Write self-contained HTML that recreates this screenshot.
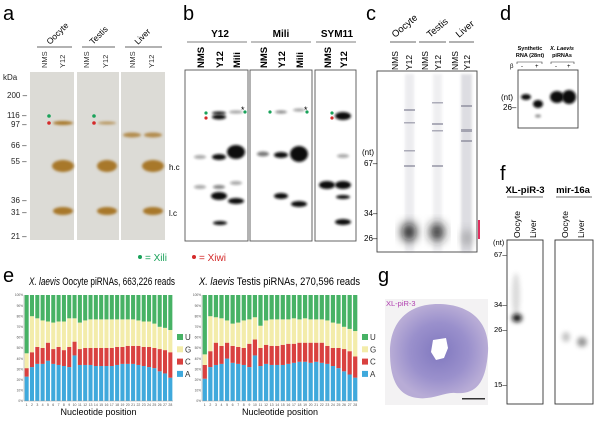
<!DOCTYPE html>
<html><head><meta charset="utf-8"><style>
html,body{margin:0;padding:0;background:#fff;}
svg{display:block;font-family:"Liberation Sans",sans-serif;}
</style></head><body>
<svg id="fig" width="600" height="422" viewBox="0 0 600 422">
<defs>
<filter id="b1" x="-50%" y="-200%" width="200%" height="500%"><feGaussianBlur stdDeviation="1.2"/></filter>
<filter id="b2" x="-50%" y="-200%" width="200%" height="500%"><feGaussianBlur stdDeviation="2.5"/></filter>
<filter id="b3" x="-50%" y="-50%" width="200%" height="200%"><feGaussianBlur stdDeviation="5"/></filter>
<radialGradient id="disc" cx="50%" cy="50%" r="50%"><stop offset="0" stop-color="#8078bf"/><stop offset="0.6" stop-color="#9a90cc"/><stop offset="1" stop-color="#b8acd6"/></radialGradient>
</defs>

<!-- Panel a -->
<g>
<text x="3" y="20" font-size="20">a</text>
<g font-size="8" fill="#222">
<text x="3" y="80">kDa</text>
<text x="7" y="98">200 –</text><text x="7" y="118">116 –</text><text x="11" y="127">97 –</text>
<text x="11" y="148">66 –</text><text x="11" y="164">55 –</text><text x="11" y="203">36 –</text>
<text x="11" y="215">31 –</text><text x="11" y="239">21 –</text>
</g>
<rect x="30" y="72" width="44" height="168" fill="#dcdbd6"/>
<rect x="77" y="72" width="42" height="168" fill="#dcdbd6"/>
<rect x="121" y="72" width="44" height="168" fill="#dcdbd6"/>
<g fill="#a8782c">
<ellipse cx="63" cy="123" rx="10" ry="2" filter="url(#b1)"/>
<ellipse cx="107" cy="123" rx="9" ry="1.5" opacity="0.7" filter="url(#b1)"/>
<ellipse cx="132" cy="135" rx="9" ry="2.5" opacity="0.8" filter="url(#b1)"/>
<ellipse cx="153" cy="135" rx="9" ry="2.5" opacity="0.8" filter="url(#b1)"/>
<ellipse cx="63" cy="166" rx="11" ry="6" filter="url(#b1)"/>
<ellipse cx="107" cy="166" rx="10" ry="6" filter="url(#b1)"/>
<ellipse cx="153" cy="166" rx="11" ry="6" filter="url(#b1)"/>
<ellipse cx="63" cy="211" rx="10" ry="4" filter="url(#b1)"/>
<ellipse cx="107" cy="211" rx="10" ry="4" filter="url(#b1)"/>
<ellipse cx="153" cy="211" rx="10" ry="4" filter="url(#b1)"/>
</g>
<circle cx="49" cy="116" r="1.8" fill="#1aa25a"/><circle cx="49" cy="123" r="1.8" fill="#d42a2a"/>
<circle cx="94" cy="116" r="1.8" fill="#1aa25a"/><circle cx="94" cy="123" r="1.8" fill="#d42a2a"/>
<text x="169" y="170" font-size="8">h.c</text><text x="169" y="216" font-size="8">l.c</text>
<g font-size="8.5"><text transform="translate(50,45) rotate(-45)">Oocyte</text>
<text transform="translate(93,45) rotate(-45)">Testis</text>
<text transform="translate(138,45) rotate(-45)">Liver</text></g>
<g stroke="#333" stroke-width="0.8"><line x1="37" y1="47" x2="72" y2="47"/><line x1="82" y1="47" x2="115" y2="47"/><line x1="125" y1="47" x2="162" y2="47"/></g>
<g font-size="7.5" fill="#333">
<text transform="translate(47,68) rotate(-90)">NMS</text><text transform="translate(65,68) rotate(-90)">Y12</text>
<text transform="translate(89,68) rotate(-90)">NMS</text><text transform="translate(108,68) rotate(-90)">Y12</text>
<text transform="translate(135,68) rotate(-90)">NMS</text><text transform="translate(154,68) rotate(-90)">Y12</text></g>
</g>

<!-- Panel b -->
<g>
<text x="183" y="20" font-size="20">b</text>
<g font-size="10" font-weight="bold" text-anchor="middle"><text x="220" y="37">Y12</text><text x="281" y="37">Mili</text><text x="337" y="37">SYM11</text></g>
<g stroke="#555" stroke-width="0.8"><line x1="187" y1="42" x2="247" y2="42"/><line x1="251" y1="42" x2="311" y2="42"/><line x1="316" y1="42" x2="356" y2="42"/></g>
<g font-size="9.5" font-weight="bold">
<text transform="translate(204,68) rotate(-90)">NMS</text><text transform="translate(223,68) rotate(-90)">Y12</text><text transform="translate(240,68) rotate(-90)">Mili</text>
<text transform="translate(267,68) rotate(-90)">NMS</text><text transform="translate(285,68) rotate(-90)">Y12</text><text transform="translate(303,68) rotate(-90)">Mili</text>
<text transform="translate(331,68) rotate(-90)">NMS</text><text transform="translate(347,68) rotate(-90)">Y12</text></g>
<g fill="none" stroke="#555" stroke-width="0.9"><rect x="185" y="70" width="63" height="171"/><rect x="250" y="70" width="62" height="171"/><rect x="315" y="70" width="41" height="171"/></g>
<g fill="#111">
<ellipse cx="219" cy="113" rx="7" ry="1.5" filter="url(#b1)"/><ellipse cx="219" cy="117" rx="7" ry="2.5" filter="url(#b1)"/>
<ellipse cx="236" cy="112" rx="7" ry="1.5" opacity="0.4" filter="url(#b1)"/>
<ellipse cx="200" cy="157" rx="6" ry="2" opacity="0.35" filter="url(#b1)"/><ellipse cx="219" cy="157" rx="7" ry="3" filter="url(#b1)"/>
<ellipse cx="236" cy="152" rx="9" ry="7" filter="url(#b1)"/>
<ellipse cx="200" cy="187" rx="6" ry="2" opacity="0.35" filter="url(#b1)"/><ellipse cx="219" cy="187" rx="6" ry="2" opacity="0.5" filter="url(#b1)"/>
<ellipse cx="219" cy="196" rx="8" ry="4" filter="url(#b1)"/><ellipse cx="236" cy="183" rx="6" ry="2" opacity="0.35" filter="url(#b1)"/>
<ellipse cx="236" cy="201" rx="8" ry="3" filter="url(#b1)"/><ellipse cx="220" cy="223" rx="7" ry="2" filter="url(#b1)"/>
<ellipse cx="281" cy="112" rx="6" ry="1.5" opacity="0.5" filter="url(#b1)"/><ellipse cx="299" cy="110" rx="6" ry="1.5" opacity="0.4" filter="url(#b1)"/>
<ellipse cx="263" cy="154" rx="6" ry="2.5" opacity="0.55" filter="url(#b1)"/><ellipse cx="281" cy="155" rx="7" ry="3" filter="url(#b1)"/>
<ellipse cx="299" cy="154" rx="9" ry="8" filter="url(#b1)"/>
<ellipse cx="281" cy="196" rx="7" ry="3" filter="url(#b1)"/><ellipse cx="299" cy="204" rx="8" ry="3" filter="url(#b1)"/>
<ellipse cx="343" cy="116" rx="8" ry="4" filter="url(#b1)"/><ellipse cx="343" cy="156" rx="6" ry="2" opacity="0.35" filter="url(#b1)"/>
<ellipse cx="327" cy="185" rx="8" ry="4" filter="url(#b1)"/><ellipse cx="343" cy="185" rx="8" ry="4" filter="url(#b1)"/>
<ellipse cx="343" cy="197" rx="7" ry="2" filter="url(#b1)"/><ellipse cx="343" cy="222" rx="8" ry="3" filter="url(#b1)"/>
</g>
<g font-size="9"><text x="241" y="113">*</text><text x="304" y="113">*</text></g>
<circle cx="206" cy="113" r="1.6" fill="#1aa25a"/><circle cx="206" cy="118" r="1.6" fill="#d42a2a"/>
<circle cx="245" cy="112" r="1.6" fill="#1aa25a"/><circle cx="270" cy="112" r="1.6" fill="#1aa25a"/>
<circle cx="307" cy="112" r="1.6" fill="#1aa25a"/>
<circle cx="332" cy="113" r="1.6" fill="#1aa25a"/><circle cx="332" cy="118" r="1.6" fill="#d42a2a"/>
</g>

<!-- legend -->
<g font-size="10">
<circle cx="140" cy="257" r="2" fill="#1aa25a"/><text x="145" y="261" fill="#1aa25a">= Xili</text>
<circle cx="194" cy="257" r="2" fill="#d42a2a"/><text x="199" y="261" fill="#d42a2a">= Xiwi</text>
</g>

<!-- Panel c -->
<g>
<text x="366" y="20" font-size="20">c</text>
<g font-size="9.5"><text transform="translate(395,38) rotate(-40)">Oocyte</text><text transform="translate(430,38) rotate(-40)">Testis</text><text transform="translate(459,38) rotate(-40)">Liver</text></g>
<g stroke="#333" stroke-width="0.8"><line x1="390" y1="42" x2="416" y2="42"/><line x1="419" y1="42" x2="446" y2="42"/><line x1="449" y1="42" x2="474" y2="42"/></g>
<g font-size="8.5"><text transform="translate(398,70) rotate(-90)">NMS</text><text transform="translate(412,70) rotate(-90)">Y12</text>
<text transform="translate(428,70) rotate(-90)">NMS</text><text transform="translate(441,70) rotate(-90)">Y12</text>
<text transform="translate(458,70) rotate(-90)">NMS</text><text transform="translate(470,70) rotate(-90)">Y12</text></g>
<rect x="377" y="71" width="100" height="181" fill="#fff" stroke="#444" stroke-width="0.9"/>
<g fill="#6a6a80">
<rect x="405" y="74" width="9" height="178" opacity="0.12" filter="url(#b1)"/>
<rect x="433" y="74" width="9" height="178" opacity="0.1" filter="url(#b1)"/>
<rect x="461" y="74" width="11" height="178" opacity="0.22" filter="url(#b1)"/>
<g opacity="0.5"><rect x="404" y="109" width="11" height="2"/><rect x="404" y="122" width="11" height="1.5"/><rect x="404" y="150" width="11" height="1.5"/><rect x="404" y="165" width="11" height="2"/>
<rect x="432" y="102" width="11" height="1.5"/><rect x="432" y="123" width="11" height="2"/><rect x="432" y="130" width="11" height="1.5"/><rect x="432" y="165" width="11" height="2"/>
<rect x="461" y="105" width="11" height="2"/><rect x="461" y="129" width="11" height="3"/><rect x="461" y="140" width="11" height="2"/></g>
<ellipse cx="409" cy="232" rx="7" ry="9" fill="#111" filter="url(#b3)"/><ellipse cx="437" cy="232" rx="7" ry="9" fill="#222" filter="url(#b3)"/>
<ellipse cx="467" cy="238" rx="5" ry="8" fill="#555" opacity="0.5" filter="url(#b3)"/>
</g>
<g font-size="8"><text x="362" y="155">(nt)</text><text x="364" y="166">67–</text><text x="364" y="216">34–</text><text x="364" y="241">26–</text></g>
<rect x="478" y="220" width="2" height="19" fill="#e03060"/>
</g>

<!-- Panel d -->
<g>
<text x="500" y="20" font-size="20">d</text>
<g font-size="5.5" font-weight="bold" text-anchor="middle"><text x="530" y="50">Synthetic</text><text x="530" y="57">RNA (28nt)</text><text x="562" y="50" font-style="italic">X. Laevis</text><text x="562" y="57">piRNAs</text></g>
<g font-size="6"><text x="510" y="68">β</text><text x="521" y="68">-</text><text x="535" y="68">+</text><text x="555" y="68">-</text><text x="567" y="68">+</text></g>
<g stroke="#333" stroke-width="0.6" fill="none"><path d="M517 64V62H542V64"/><path d="M551 64V62H574V64"/></g>
<rect x="518" y="70" width="60" height="58" fill="#fff" stroke="#444" stroke-width="0.9"/>
<g fill="#111"><ellipse cx="526" cy="97" rx="5" ry="3" filter="url(#b1)"/><ellipse cx="538" cy="104" rx="5" ry="4" filter="url(#b1)"/>
<ellipse cx="538" cy="116" rx="3" ry="1.5" opacity="0.5" filter="url(#b1)"/>
<ellipse cx="557" cy="97" rx="7" ry="6" filter="url(#b1)"/><ellipse cx="569" cy="97" rx="7" ry="7" filter="url(#b1)"/></g>
<g font-size="8"><text x="501" y="100">(nt)</text><text x="503" y="110">26–</text></g>
</g>

<!-- Panel f -->
<g>
<text x="500" y="180" font-size="20">f</text>
<g font-size="9.5" font-weight="bold" text-anchor="middle"><text x="525" y="193">XL-piR-3</text><text x="573" y="193">mir-16a</text></g>
<g stroke="#444" stroke-width="0.8"><line x1="507" y1="197" x2="543" y2="197"/><line x1="556" y1="197" x2="592" y2="197"/></g>
<g font-size="8.5"><text transform="translate(520,238) rotate(-90)">Oocyte</text><text transform="translate(536,238) rotate(-90)">Liver</text>
<text transform="translate(568,238) rotate(-90)">Oocyte</text><text transform="translate(584,238) rotate(-90)">Liver</text></g>
<rect x="507" y="240" width="36" height="164" fill="#fff" stroke="#333" stroke-width="0.9"/>
<rect x="555" y="240" width="38" height="164" fill="#fff" stroke="#333" stroke-width="0.9"/>
<ellipse cx="516" cy="295" rx="4" ry="22" fill="#888" opacity="0.3" filter="url(#b2)"/>
<ellipse cx="517" cy="318" rx="5" ry="4" fill="#111" filter="url(#b2)"/>
<ellipse cx="566" cy="337" rx="4" ry="5" fill="#888" opacity="0.5" filter="url(#b2)"/>
<ellipse cx="582" cy="342" rx="5" ry="5" fill="#555" opacity="0.6" filter="url(#b2)"/>
<g font-size="7.5"><text x="493" y="245">(nt)</text><text x="494" y="257">67–</text><text x="494" y="307">34–</text><text x="494" y="332">26–</text><text x="494" y="387">15–</text></g>
</g>

<!-- Panel g -->
<g>
<text x="378" y="282" font-size="20">g</text>
<rect x="385" y="299" width="103" height="106" fill="#f3f2f3"/>
<path d="M438 304 C468 304 490 320 488 352 C486 380 478 395 455 393 C445 392 432 400 418 398 C398 396 390 380 390 352 C390 322 408 304 438 304Z" fill="url(#disc)"/>
<path d="M433 340 L446 338 L448 348 L444 358 L436 360 L431 352Z" fill="#fff"/>
<text x="386" y="306" font-size="7.5" fill="#b040b0">XL-piR-3</text>
<rect x="462" y="398" width="23" height="1.5" fill="#333"/>
</g>

<!-- Panel e -->
<g>
<text x="3" y="282" font-size="20">e</text>
<text x="29" y="285" font-size="11" textLength="146" lengthAdjust="spacingAndGlyphs"><tspan font-style="italic">X. laevis</tspan> Oocyte piRNAs, 663,226 reads</text>
<text x="199" y="285" font-size="11" textLength="161" lengthAdjust="spacingAndGlyphs"><tspan font-style="italic">X. laevis</tspan> Testis piRNAs, 270,596 reads</text>
<g id="charts"></g>
</g>
</svg>
<script>
const positions = [1,2,3,4,5,6,7,8,9,10,11,12,13,14,15,16,17,18,19,20,21,22,23,24,25,26,27,28];
const yTicks = ["0%","10%","20%","30%","40%","50%","60%","70%","80%","90%","100%"];
const baseLabels = ["U","G","C","A"];
// cumulative tops (%) for A, A+C, A+C+G; U fills to 100
const oocyteA = [23,32,35,35,38,35,34,33,32,43,34,34,34,33,33,33,33,34,35,35,35,34,33,32,31,28,26,22];
const oocyteC = [31,46,51,50,55,49,51,48,51,56,49,50,50,50,50,50,50,51,51,52,52,52,51,51,50,49,48,46];
const oocyteG = [45,80,78,76,75,74,75,75,78,78,74,76,77,77,77,77,77,77,77,77,77,76,75,75,73,70,69,67];
const testisA = [21,32,34,35,40,36,35,34,32,43,33,35,34,34,34,35,36,37,37,36,37,36,35,33,31,28,25,22];
const testisC = [34,47,55,52,55,52,51,50,54,58,50,53,52,52,53,54,54,55,55,55,55,55,52,50,50,49,47,42];
const testisG = [44,80,79,78,76,73,74,76,77,79,71,76,77,77,77,77,78,77,78,77,77,77,76,74,73,70,68,66];
const colors = {A:"#3fa9dc",C:"#d9413f",G:"#f3ecaa",U:"#47b265"};
const NS="http://www.w3.org/2000/svg";
function el(tag, attrs, parent){const e=document.createElementNS(NS,tag);for(const k in attrs)e.setAttribute(k,attrs[k]);parent.appendChild(e);return e;}
function drawChart(x0,x1,y0,y1,A,C,G,name){
  const root=document.getElementById('charts');
  const g=el('g',{},root);
  
  
  const yS=v=>y0-(v/100)*(y0-y1);
  const step=(x1-x0)/positions.length;
  const xS=i=>x0+i*step+step*0.12;
  const bw=step*0.76;
  yTicks.forEach((t,i)=>{const tx=el('text',{x:x0-1,y:yS(i*10)+1.2,'font-size':'3.2','text-anchor':'end',fill:'#555'},g);tx.textContent=t;
    
    });
  positions.forEach((p,i)=>{
    const segs=[[0,A[i],'A'],[A[i],C[i],'C'],[C[i],G[i],'G'],[G[i],100,'U']];
    segs.forEach(s=>{const r=el('rect',{x:xS(i),y:yS(s[1]),width:bw,height:yS(s[0])-yS(s[1]),fill:colors[s[2]]},g);
      
      });
    const lt=el('text',{x:xS(i)+bw/2,y:y0+5,'font-size':'3.5','text-anchor':'middle',fill:'#555'},g);lt.textContent=p;
    
    
  });
  el('line',{x1:x0,y1:y0,x2:x0,y2:y1,stroke:'#999','stroke-width':0.5},g);
  el('line',{x1:x0,y1:y0,x2:x1,y2:y0,stroke:'#999','stroke-width':0.5},g);
  const xl=el('text',{x:(x0+x1)/2,y:y0+14,'font-size':'9','text-anchor':'middle'},g);xl.textContent='Nucleotide position';
  
  
  baseLabels.forEach((b,i)=>{const yy=334+i*12.3;
    const sq=el('rect',{x:x1+4,y:yy,width:6,height:6,fill:colors[b]},g);
    
    
    const lt=el('text',{x:x1+12,y:yy+6,'font-size':'8',fill:'#333'},g);lt.textContent=b;
    
    });
}
drawChart(24,173,401,295,oocyteA,oocyteC,oocyteG,'oocyte-nucleotide-chart');
drawChart(202,358,401,295,testisA,testisC,testisG,'testis-nucleotide-chart');
</script>
</body></html>
